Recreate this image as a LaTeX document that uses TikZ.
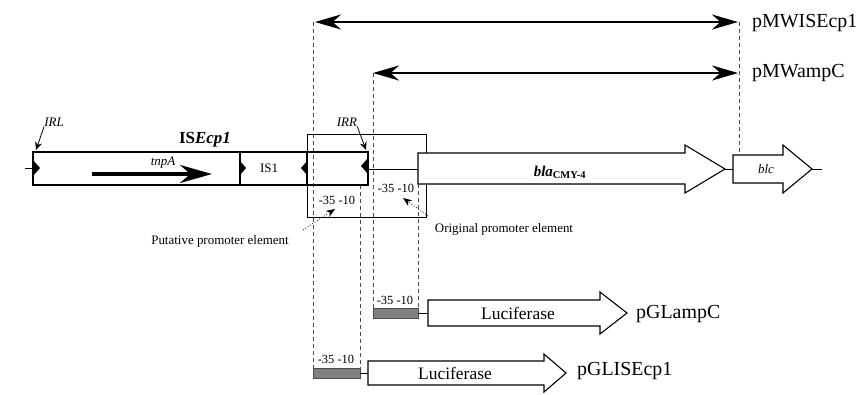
\documentclass[tikz,border=0pt]{standalone}
\usepackage{fontspec}
\setmainfont{Liberation Serif}
\usetikzlibrary{arrows.meta}
\begin{document}
\begin{tikzpicture}[x=1bp,y=-1bp,
  lbl/.style={font=\fontsize{20}{20}\selectfont, anchor=west, inner sep=0pt},
  small/.style={font=\fontsize{12.5}{12.5}\selectfont, inner sep=0pt},
  note/.style={font=\fontsize{13}{13}\selectfont, inner sep=0pt},
  ital/.style={font=\fontsize{13}{13}\selectfont\itshape, inner sep=0pt},
  dbl/.style={line width=2.5bp, {Stealth[length=26bp,width=15bp]}-{Stealth[length=26bp,width=15bp]}},
  guide/.style={dashed, dash pattern=on 4bp off 3bp, line width=0.6bp, black!70},
  gene/.style={draw=black, line width=1.1bp, fill=white},
  isbar/.style={draw=black, line width=1.6bp},
  prom/.style={fill=black!50, draw=black!70, line width=0.6bp},
  ptr/.style={line width=0.8bp, dotted, -{Stealth[length=9bp,width=7bp]}},
  irptr/.style={line width=0.8bp, -{Stealth[length=8bp,width=7bp]}},
  irmark/.style={fill=black}]
\useasboundingbox (0,0) rectangle (861,394);

% coordinates for the double arrows and guide lines
\coordinate (wL) at (315,22);
\coordinate (wR) at (738,22);
\coordinate (aL) at (373,73);
\coordinate (aR) at (738,73);
\coordinate (g1t) at (313,22);   \coordinate (g1b) at (313,368);
\coordinate (g2t) at (360,185);  \coordinate (g2b) at (360,368);
\coordinate (g3t) at (373,73);   \coordinate (g3b) at (373,308);
\coordinate (g4t) at (418,184);  \coordinate (g4b) at (418,308);
\coordinate (g5t) at (739,22);   \coordinate (g5b) at (739,155);

% guide lines
\draw[guide] (g1t) -- (g1b);
\draw[guide] (g2t) -- (g2b);
\draw[guide] (g3t) -- (g3b);
\draw[guide] (g4t) -- (g4b);
\draw[guide] (g5t) -- (g5b);

% double arrows
\draw[dbl] (wL) -- (wR);
\draw[dbl] (aL) -- (aR);
\node[lbl] (pmwis) at (752,23) {pMWISEcp1};
\node[lbl] (pmwamp) at (752,73) {pMWampC};

% ISEcp1 bar
\draw[isbar] (33,152) rectangle (368,185);
\draw[isbar] (240,152) -- (240,185);
\draw[isbar] (307,152) -- (307,185);
\coordinate (stubL) at (25,168); \coordinate (stubR) at (33,168);
\draw[line width=0.8bp] (stubL) -- (stubR);
\fill[irmark] (33,160) -- (40,168) -- (33,176) -- cycle;
\fill[irmark] (240,161) -- (246,168) -- (240,175) -- cycle;
\fill[irmark] (307,161) -- (301,168) -- (307,175) -- cycle;
\fill[irmark] (368,158) -- (361,166) -- (368,174) -- cycle;

% promoter box
\draw[line width=1bp] (307,134) rectangle (426,217);
\coordinate (linkA) at (368,169); \coordinate (linkB) at (418,169);
\draw[line width=1bp] (linkA) -- (linkB);

% labels on the IS bar
\node[font=\fontsize{17}{17}\selectfont, inner sep=0pt] (isecp) at (205,140) {\textbf{IS\textit{Ecp1}}};
\node[ital] (irl) at (54,122) {IRL};
\node[ital] (irr) at (347,122) {IRR};
\coordinate (irlTip) at (36,150);
\coordinate (irrTip) at (366,150);
\draw[irptr] (irl.south west) -- (irlTip);
\draw[irptr] (irr.south east) -- (irrTip);
\node[ital] (tnpa) at (163,163) {tnpA};
\coordinate (tnS) at (92,174); \coordinate (tnE) at (212,174);
\draw[line width=4bp, -{Stealth[length=32bp,width=18bp]}] (tnS) -- (tnE);
\node[font=\fontsize{13}{13}\selectfont, inner sep=0pt] (is1) at (269,168) {IS1};

% bla arrow
\draw[gene] (418,153) -- (685,153) -- (685,145) -- (725,169) -- (685,193) -- (685,184) -- (418,184) -- cycle;
\node[font=\fontsize{15}{15}\selectfont, inner sep=0pt] (bla) at (560,172) {\textbf{\textit{bla}}\textsubscript{\textbf{CMY-4}}};
\coordinate (blaT) at (725,169); \coordinate (blcS) at (733,169);
\draw[line width=1bp] (blaT) -- (blcS);
% blc arrow
\draw[gene] (733,155) -- (783,155) -- (783,145) -- (812,169) -- (783,193) -- (783,183) -- (733,183) -- cycle;
\node[ital] (blc) at (766,169) {blc};
\coordinate (blcT) at (812,169); \coordinate (blcE) at (822,169);
\draw[line width=1bp] (blcT) -- (blcE);

% promoter labels
\node[small] (p1) at (337,200) {-35 -10};
\node[small] (p2) at (396,188) {-35 -10};
\node[note] (put) at (220,241) {Putative promoter element};
\node[note] (ori) at (504,229) {Original promoter element};
\coordinate (putS) at (303,230); \coordinate (putE) at (335,209);
\draw[ptr] (putS) -- (putE);
\coordinate (oriS) at (428,216); \coordinate (oriE) at (403,198);
\draw[ptr] (oriS) -- (oriE);

% pGLampC construct
\node[small] (p3) at (395,300) {-35 -10};
\draw[prom] (373,308) rectangle (418,318);
\coordinate (c1a) at (418,313); \coordinate (c1b) at (428,313);
\draw[line width=0.8bp] (c1a) -- (c1b);
\draw[gene] (428,300) -- (600,300) -- (600,292) -- (627,313) -- (600,334) -- (600,326) -- (428,326) -- cycle;
\node[font=\fontsize{17.5}{17.5}\selectfont, inner sep=0pt] (luc1) at (518,313) {Luciferase};
\node[lbl] (pglamp) at (636,314) {pGLampC};

% pGLISEcp1 construct
\node[small] (p4) at (336,359) {-35 -10};
\draw[prom] (313,368) rectangle (360,378);
\coordinate (c2a) at (360,373); \coordinate (c2b) at (368,373);
\draw[line width=0.8bp] (c2a) -- (c2b);
\draw[gene] (368,361) -- (544,361) -- (544,354) -- (566,373) -- (544,392) -- (544,385) -- (368,385) -- cycle;
\node[font=\fontsize{17.5}{17.5}\selectfont, inner sep=0pt] (luc2) at (455,373) {Luciferase};
\node[lbl] (pglis) at (577,371) {pGLISEcp1};
\end{tikzpicture}
\end{document}
